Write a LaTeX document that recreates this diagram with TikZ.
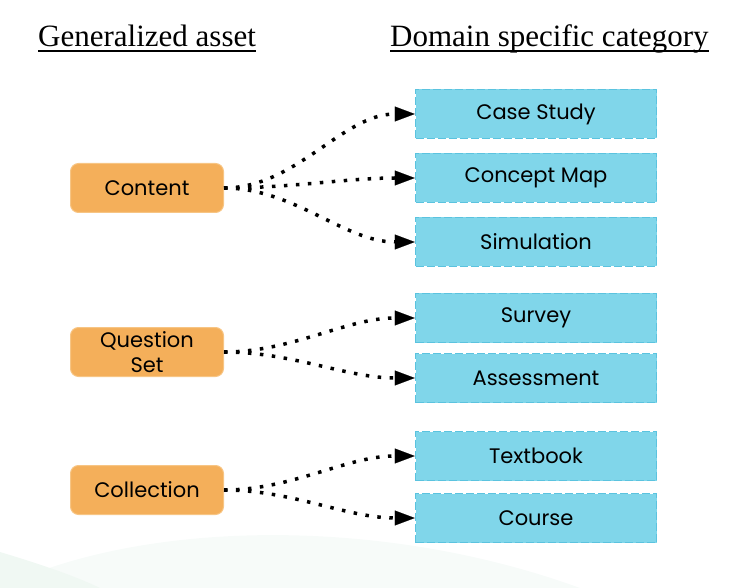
\documentclass[tikz,border=0pt]{standalone}
\usepackage{fontspec}
\setmainfont{Liberation Serif}
\newfontfamily\gothic{Poppins}
\usetikzlibrary{arrows.meta}

\definecolor{assetorange}{HTML}{F4AF5A}
\definecolor{assetedge}{HTML}{F7C584}
\definecolor{catblue}{HTML}{80D6EA}
\definecolor{catedge}{HTML}{5BC3DF}
\definecolor{swoosh}{HTML}{F7FBF9}
\definecolor{swooshleft}{HTML}{F0F8F3}

\begin{document}
\begin{tikzpicture}[x=1pt,y=-1pt,
  asset/.style={fill=assetorange,draw=assetedge,line width=1pt,rounded corners=8pt,
    minimum width=153pt,minimum height=49pt,align=center,
    font=\gothic\fontsize{21}{25}\selectfont},
  category/.style={fill=catblue,draw=catedge,line width=1.5pt,dash pattern=on 8pt off 3pt,
    minimum width=241pt,minimum height=49pt,font=\gothic\fontsize{21}{24}\selectfont},
  link/.style={line width=3.5pt,dash pattern=on 3.5pt off 8.5pt,
    -{Triangle[length=20pt,width=15pt,line width=0.1pt]}},
  heading/.style={anchor=base west,inner sep=0pt,font=\fontsize{31}{36}\selectfont},
  underline/.style={line width=1.6pt}]
\useasboundingbox (0,0) rectangle (734,588);

% faint slide background
\fill[swoosh] (0,588) .. controls (140,520) and (380,515) .. (580,588) -- cycle;
\fill[swooshleft] (0,552) .. controls (40,564) and (75,576) .. (100,588) -- (0,588) -- cycle;

\node[heading] (lefthead) at (38,47) {Generalized asset};
\node[heading] (righthead) at (390,47) {Domain specific category};
\draw[underline] ([yshift=-4pt]lefthead.base west) -- ([yshift=-4pt]lefthead.base east);
\draw[underline] ([yshift=-4pt]righthead.base west) -- ([yshift=-4pt]righthead.base east);

% generalized assets
\node[asset] (content) at (147,188) {Content};
\node[asset] (qset) at (147,352) {Question\\Set};
\node[asset] (collection) at (147,490) {Collection};

% domain categories
\node[category] (casestudy) at (536,114) {Case Study};
\node[category] (conceptmap) at (536,178) {Concept Map};
\node[category] (simulation) at (536,242) {Simulation};
\node[category] (survey) at (536,318) {Survey};
\node[category] (assessment) at (536,378) {Assessment};
\node[category] (textbook) at (536,456) {Textbook};
\node[category] (course) at (536,518) {Course};

\foreach \src/\dst in {content/casestudy,content/conceptmap,content/simulation,
    qset/survey,qset/assessment,collection/textbook,collection/course}
  \draw[link] (\src.east) to[out=0,in=180,looseness=0.9] (\dst.west);

\end{tikzpicture}
\end{document}
